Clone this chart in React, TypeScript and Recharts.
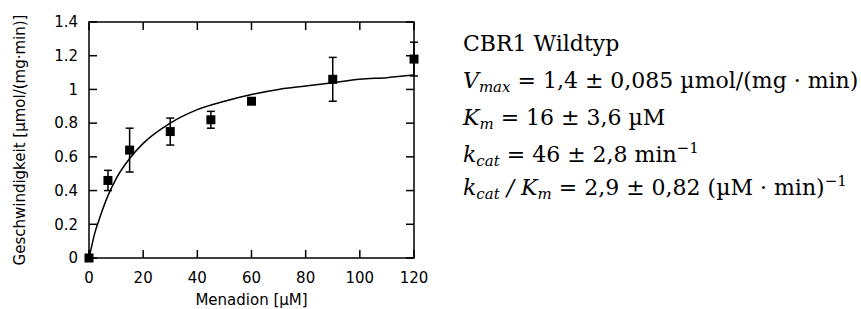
import {
  ComposedChart,
  Line,
  Scatter,
  ErrorBar,
  XAxis,
  YAxis,
  ReferenceArea,
  ReferenceLine,
} from 'recharts';

// measured velocities (Menadion in µM, rate in µmol/(mg·min)), err = +/- half of bar
const conc = [0, 7, 15, 30, 45, 60, 90, 120];
const rate = [0, 0.46, 0.64, 0.75, 0.82, 0.93, 1.06, 1.18];
const rateErr = [0, 0.06, 0.13, 0.08, 0.05, 0, 0.13, 0.1];

// fitted curve
const fitX = [0, 1, 2, 4, 7, 10, 15, 20, 30, 40, 50, 60, 70, 80, 90, 100, 110, 120];
const fitY = [0, 0.07, 0.14, 0.24, 0.37, 0.47, 0.59, 0.68, 0.8, 0.88, 0.93, 0.97, 1.0, 1.02, 1.04, 1.06, 1.07, 1.085];

const xTicks = [0, 20, 40, 60, 80, 100, 120];
const yTicks = [0, 0.2, 0.4, 0.6, 0.8, 1, 1.2, 1.4];

const points = conc.map((x, i) => ({ x, y: rate[i], err: rateErr[i] }));
const fit = fitX.map((x, i) => ({ x, fit: fitY[i] }));

// plot box (gnuplot style frame, ticks point inward on all four sides)
const box = { left: 89, right: 414, top: 22, bottom: 258 };
const xMax = 120;
const yMax = 1.4;
const tickPx = 8;
const tickDx = (xMax * tickPx) / (box.right - box.left);
const tickDy = (yMax * tickPx) / (box.bottom - box.top);

const sans = 'DejaVu Sans';

function XTick(props: any) {
  const { x, y, payload } = props;
  return (
    <text x={x} y={y} dy="0.71em" textAnchor="middle" fontFamily={sans} fontSize={15} fill="#000">
      {payload.value}
    </text>
  );
}

function YTick(props: any) {
  const { x, y, payload } = props;
  return (
    <text x={x} y={y} dy="0.355em" textAnchor="end" fontFamily={sans} fontSize={15} fill="#000">
      {payload.value}
    </text>
  );
}

function Square(props: { cx?: number; cy?: number }) {
  const { cx = 0, cy = 0 } = props;
  return <rect x={cx - 4.5} y={cy - 4.5} width={9} height={9} fill="#000" />;
}

function YTitle(props: any) {
  const vb = props.viewBox || { x: 0, y: 22, height: 236 };
  const cy = vb.y + vb.height / 2;
  return (
    <text
      x={20}
      y={cy}
      transform={`rotate(-90, 20, ${cy})`}
      textAnchor="middle"
      dominantBaseline="central"
      fontFamily={sans}
      fontSize={15}
      fill="#000"
    >
      Geschwindigkeit [µmol/(mg·min)]
    </text>
  );
}

const serif = { fontFamily: 'DejaVu Serif', fontSize: 22, fill: '#000' };

function Params() {
  const sub = { fontSize: 15, fontStyle: 'italic' as const };
  return (
    <svg width={421} height={309} style={{ position: 'absolute', left: 440, top: 0 }}>
      <g {...serif}>
        <text x={23} y={51}>CBR1 Wildtyp</text>
        <text x={23} y={88}>
          <tspan fontStyle="italic">V</tspan>
          <tspan {...sub} dy={4}>max</tspan>
          <tspan dy={-4}> = 1,4 ± 0,085 µmol/(mg · min)</tspan>
        </text>
        <text x={23} y={125}>
          <tspan fontStyle="italic">K</tspan>
          <tspan {...sub} dy={4}>m</tspan>
          <tspan dy={-4}> = 16 ± 3,6 µM</tspan>
        </text>
        <text x={23} y={161.5}>
          <tspan fontStyle="italic">k</tspan>
          <tspan {...sub} dy={4}>cat</tspan>
          <tspan dy={-4}> = 46 ± 2,8 min</tspan>
          <tspan fontSize={15} dy={-9}>−1</tspan>
        </text>
        <text x={23} y={195}>
          <tspan fontStyle="italic">k</tspan>
          <tspan {...sub} dy={4}>cat</tspan>
          <tspan dy={-4} fontStyle="italic"> / K</tspan>
          <tspan {...sub} dy={4}>m</tspan>
          <tspan dy={-4}> = 2,9 ± 0,82 (µM · min)</tspan>
          <tspan fontSize={15} dy={-9}>−1</tspan>
        </text>
      </g>
    </svg>
  );
}

const tickStroke = { stroke: '#000', strokeWidth: 1.5 };

export default function App() {
  return (
    <div style={{ position: 'absolute', left: 0, top: 0, width: 861, height: 309, background: '#fff' }}>
      <ComposedChart
        width={440}
        height={309}
        margin={{ top: box.top, right: 440 - box.right, bottom: 0, left: 0 }}
      >
        <XAxis
          dataKey="x"
          type="number"
          domain={[0, xMax]}
          ticks={xTicks}
          height={309 - box.bottom}
          tickSize={0}
          tickMargin={14}
          tick={<XTick />}
          tickLine={false}
          axisLine={false}
          label={{
            value: 'Menadion [µM]',
            position: 'insideBottom',
            offset: 4,
            fontFamily: sans,
            fontSize: 15,
            fill: '#000',
          }}
        />
        <YAxis
          type="number"
          domain={[0, yMax]}
          ticks={yTicks}
          width={box.left}
          tickSize={0}
          tickMargin={11}
          tick={<YTick />}
          tickLine={false}
          axisLine={false}
          label={(p: any) => <YTitle {...p} />}
        />
        <ReferenceArea x1={0} x2={xMax} y1={0} y2={yMax} fill="none" fillOpacity={0} {...tickStroke} />
        {xTicks.map((t) => (
          <ReferenceLine key={`xb${t}`} segment={[{ x: t, y: 0 }, { x: t, y: tickDy }]} {...tickStroke} />
        ))}
        {xTicks.map((t) => (
          <ReferenceLine key={`xt${t}`} segment={[{ x: t, y: yMax - tickDy }, { x: t, y: yMax }]} {...tickStroke} />
        ))}
        {yTicks.map((t) => (
          <ReferenceLine key={`yl${t}`} segment={[{ x: 0, y: t }, { x: tickDx, y: t }]} {...tickStroke} />
        ))}
        {yTicks.map((t) => (
          <ReferenceLine key={`yr${t}`} segment={[{ x: xMax - tickDx, y: t }, { x: xMax, y: t }]} {...tickStroke} />
        ))}
        <Line
          data={fit}
          dataKey="fit"
          type="monotone"
          stroke="#000"
          strokeWidth={1.5}
          dot={false}
          isAnimationActive={false}
        />
        <Scatter data={points} dataKey="y" shape={<Square />} isAnimationActive={false}>
          <ErrorBar dataKey="err" direction="y" width={4} stroke="#000" strokeWidth={1.5} />
        </Scatter>
      </ComposedChart>
      <Params />
    </div>
  );
}
